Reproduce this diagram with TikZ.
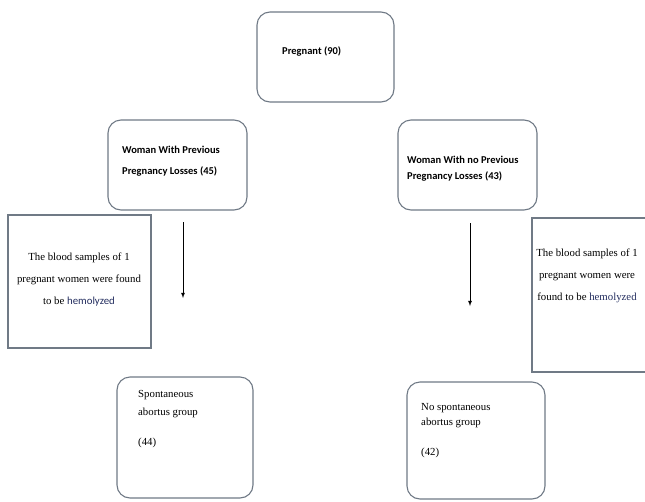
\documentclass[tikz,border=0pt]{standalone}
\usepackage{fontspec}
\setmainfont{Liberation Serif}
\newfontfamily\calibri{Carlito}
\usepackage{xcolor}
\usepackage{tikz}
\usetikzlibrary{arrows,positioning,calc}

\definecolor{framegray}{RGB}{112,122,134}
\definecolor{inkblue}{RGB}{35,45,95}

\begin{document}
\begin{tikzpicture}[
    x=1pt, y=-1pt,
    roundbox/.style={rectangle, draw=framegray, line width=1.1pt, rounded corners=13pt, fill=white},
    plainbox/.style={rectangle, draw=framegray, line width=1.1pt, fill=white},
    headtext/.style={font=\calibri\bfseries\fontsize{10.5}{21}\selectfont, align=left, inner sep=0pt},
    sidetext/.style={font=\fontsize{10.8}{22}\selectfont, align=center, inner sep=0pt},
    grouptext/.style={font=\fontsize{10.8}{18}\selectfont, align=left, inner sep=0pt},
    arrow/.style={->, >=latex, line width=0.8pt}
]
\useasboundingbox (0,0) rectangle (645,501);
\clip (0,0) rectangle (645,501);

% Top box
\node[roundbox, minimum width=137pt, minimum height=90pt] (preg) at (325.5,57) {};
\node[headtext, anchor=west] (pregtxt) at (282,51) {Pregnant (90)};

% Second row
\node[roundbox, minimum width=139pt, minimum height=90pt] (prevloss) at (177.5,165) {};
\node[headtext, anchor=west] (prevtxt) at (122,161.5) {Woman With Previous\\Pregnancy Losses (45)};

\node[roundbox, minimum width=139pt, minimum height=90pt] (noprevloss) at (467.5,165) {};
\node[headtext, anchor=west] (noprevtxt) at (407,168.5) {Woman With no Previous\\[-5pt]Pregnancy Losses (43)};

% Hemolyzed notes
\node[plainbox, minimum width=143pt, minimum height=133pt] (hemoleft) at (79.5,281.5) {};
\node[sidetext] (hemolefttxt) at (79,279.5) {The blood samples of 1\\pregnant women were found\\to be {\calibri\color{inkblue}hemolyzed}};

\node[plainbox, minimum width=130pt, minimum height=154pt] (hemoright) at (597,295) {};
\node[sidetext] (hemorighttxt) at (587,276) {The blood samples of 1\\pregnant women were\\found to be {\color{inkblue}hemolyzed}};

% Arrows
\coordinate (leftfrom) at (183,222);
\coordinate (leftto) at (183,298);
\coordinate (rightfrom) at (470,223);
\coordinate (rightto) at (470,306);
\draw[arrow] (leftfrom) -- (leftto);
\draw[arrow] (rightfrom) -- (rightto);

% Bottom groups
\node[roundbox, minimum width=136pt, minimum height=121pt] (spont) at (185,437.5) {};
\node[grouptext, anchor=west] (sponttxt) at (138,419) {Spontaneous\\abortus group\\[12pt](44)};

\node[roundbox, minimum width=138pt, minimum height=117pt] (nospont) at (476,440.5) {};
\node[grouptext, anchor=west] (nosponttxt) at (421,431) {No spontaneous\\[-3pt]abortus group\\[12pt](42)};

\end{tikzpicture}
\end{document}
